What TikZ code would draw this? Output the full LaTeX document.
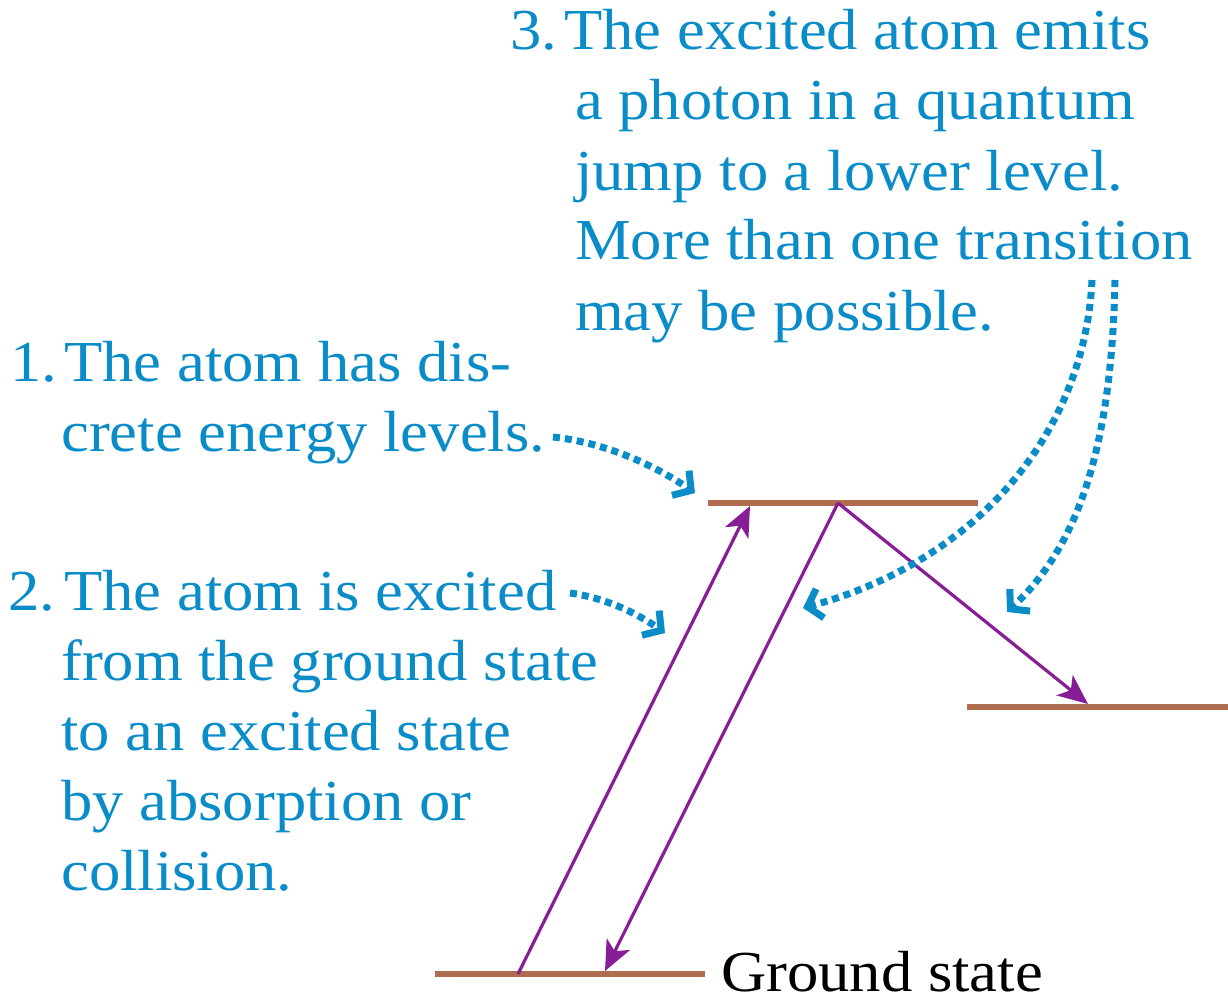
\documentclass[tikz,border=0pt]{standalone}
\usepackage{fontspec}
\setmainfont{Liberation Serif}[FakeStretch=1.08]
\usetikzlibrary{arrows.meta}
\definecolor{txtblue}{RGB}{10,140,200}
\definecolor{lvlbrown}{RGB}{176,108,78}
\definecolor{trpurple}{RGB}{135,30,150}
\begin{document}
\begin{tikzpicture}[x=1pt,y=-1pt,
  level/.style={draw=lvlbrown,line width=6pt},
  trans/.style={draw=trpurple,line width=3.2pt,-{Stealth[length=30pt,width=26pt,inset=8pt]}},
  pointer/.style={draw=txtblue,line width=7pt,dash pattern=on 7pt off 5pt,-{Straight Barb[length=13pt,width=30pt,line width=7pt]}},
  lbl/.style={inner sep=0pt,anchor=base west,text=txtblue,align=left,font=\rmfamily\fontsize{58}{70}\selectfont},
  gslbl/.style={inner sep=0pt,anchor=base west,text=black,font=\rmfamily\fontsize{58}{70}\selectfont},
]
\useasboundingbox (0,0) rectangle (1228,1000);

% energy levels
\coordinate (upL) at (708,503);
\coordinate (upR) at (978,503);
\coordinate (miL) at (967,707);
\coordinate (miR) at (1228,707);
\coordinate (grL) at (435,974);
\coordinate (grR) at (705,974);
\draw[level] (upL) -- (upR);
\draw[level] (miL) -- (miR);
\draw[level] (grL) -- (grR);

% transition points
\coordinate (gA) at (518,974);
\coordinate (uA) at (750,506);
\coordinate (uB) at (838,503);
\coordinate (gB) at (605,971);
\coordinate (mB) at (1088,704);
\draw[trans] (gA) -- (uA);
\draw[trans] (uB) -- (gB);
\draw[trans] (uB) -- (mB);

% texts (anchor = baseline of the last line)
\node[lbl] (t1) at (10,451) {\makebox[54pt][l]{1.}The atom has dis-\\
\hspace*{51pt}crete energy levels.};
\node[lbl] (t2) at (8,890) {\makebox[56pt][l]{2.}The atom is excited\\
\hspace*{53pt}from the ground state\\
\hspace*{53pt}to an excited state\\
\hspace*{53pt}by absorption or\\
\hspace*{53pt}collision.};
\node[lbl] (t3) at (510,330) {\makebox[54pt][l]{3.}The excited atom emits\\
\hspace*{65pt}a photon in a quantum\\
\hspace*{65pt}jump to a lower level.\\
\hspace*{65pt}More than one transition\\
\hspace*{65pt}may be possible.};
\node[gslbl] (gs) at (721,991) {Ground state};

% pointer arrows
\coordinate (p1s) at (553,437);
\coordinate (p1e) at (695,493);
\coordinate (p2s) at (570,593);
\coordinate (p2e) at (665,633);
\coordinate (p3s) at (1092,280);
\coordinate (p3e) at (803,608);
\coordinate (p4s) at (1115,280);
\coordinate (p4e) at (1007,612);
\draw[pointer] (p1s) .. controls (600,442) and (650,462) .. (p1e);
\draw[pointer] (p2s) .. controls (605,598) and (635,612) .. (p2e);
\draw[pointer] (p3s) .. controls (1085,430) and (980,560) .. (p3e);
\draw[pointer] (p4s) .. controls (1112,430) and (1085,540) .. (p4e);
\end{tikzpicture}
\end{document}
